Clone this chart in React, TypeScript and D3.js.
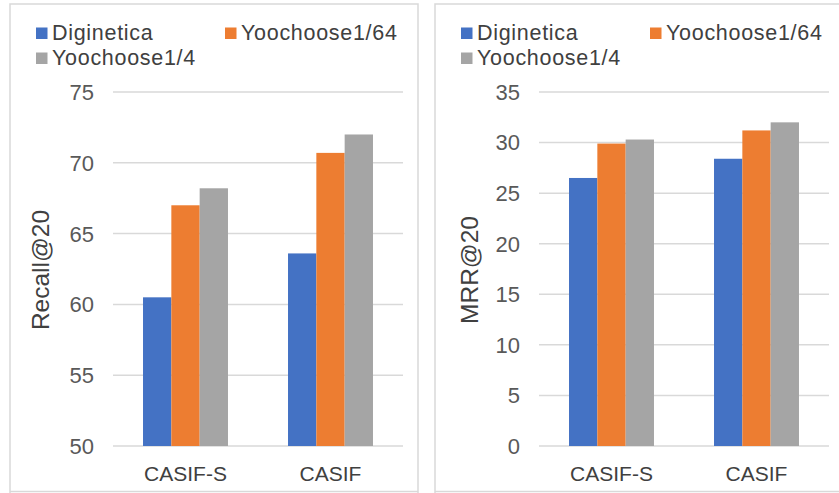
import * as React from "react";
import { scaleBand, scaleLinear, range } from "d3";

const categories = ["CASIF-S", "CASIF"];
const seriesNames = ["Diginetica", "Yoochoose1/64", "Yoochoose1/4"];
const seriesColors = ["#4472C4", "#ED7D31", "#A5A5A5"];

// values per series, in category order
const recallDiginetica = [60.5, 63.6];
const recallYoo64 = [67.0, 70.7];
const recallYoo4 = [68.2, 72.0];

const mrrDiginetica = [26.5, 28.4];
const mrrYoo64 = [29.9, 31.2];
const mrrYoo4 = [30.3, 32.0];

const recallTicks = [50, 55, 60, 65, 70, 75];
const mrrTicks = [0, 5, 10, 15, 20, 25, 30, 35];

const W = 839, H = 493;
const font = "'Liberation Sans', Arial, sans-serif";

interface PanelProps {
    left: number,
    right: number,
    plotLeft: number,
    plotRight: number,
    title: string,
    titleX: number,
    ticks: number[],
    values: number[][],
    drawRight: boolean
}

const Panel: React.FC<PanelProps> = ({left, right, plotLeft, plotRight, title, titleX, ticks, values, drawRight}) => {
    const top = 92, bottom = 446;
    const y = scaleLinear().domain([ticks[0], ticks[ticks.length - 1]]).range([bottom, top]);
    const x0 = scaleBand<string>().domain(categories).range([plotLeft, plotRight])
        .paddingInner(0.414).paddingOuter(0.207);
    const x1 = scaleBand<number>().domain(range(seriesNames.length)).range([0, x0.bandwidth()]);

    // legend rows are a touch further apart than the reference so the labels don't collide
    const legendPos = [
        {x: left + 26, y: 39.5},
        {x: left + 215, y: 39.5},
        {x: left + 26, y: 64.5},
    ];

    return (
        <g>
            <path
                d={`M${left},${H}V4H${right}` + (drawRight ? `V${H}` : "")}
                fill="none" stroke="#d9d9d9" strokeWidth={1.5}/>
            <line x1={left} x2={right} y1={491.5} y2={491.5} stroke="#d9d9d9" strokeWidth={1.5}/>

            {ticks.map(t => (
                <g key={t}>
                    <line x1={plotLeft} x2={plotRight} y1={y(t)} y2={y(t)} stroke="#d9d9d9" strokeWidth={1.5}/>
                    <text x={plotLeft - 19} y={y(t)} dy="0.36em" textAnchor="end"
                          fontSize={22} fill="#595959">{t}</text>
                </g>
            ))}

            {categories.map((c, ci) => (
                <g key={c} transform={`translate(${x0(c)},0)`}>
                    {values.map((s, si) => (
                        <rect key={si} x={x1(si)} width={x1.bandwidth()}
                              y={y(s[ci])} height={bottom - y(s[ci])} fill={seriesColors[si]}/>
                    ))}
                </g>
            ))}

            {categories.map(c => (
                <text key={c} x={(x0(c) as number) + x0.bandwidth() / 2} y={481} textAnchor="middle"
                      fontSize={21} fill="#404040">{c}</text>
            ))}

            <text transform={`translate(${titleX},270) rotate(-90)`} textAnchor="middle"
                  fontSize={24.5} fill="#404040">{title}</text>

            {seriesNames.map((n, i) => (
                <g key={n}>
                    <rect x={legendPos[i].x} y={legendPos[i].y - 12} width={11.5} height={11.5} fill={seriesColors[i]}/>
                    <text x={legendPos[i].x + 16} y={legendPos[i].y} fontSize={21.5} letterSpacing={0.7}
                          fill="#404040">{n}</text>
                </g>
            ))}
        </g>
    );
};

const App: React.FC = () => {
    return (
        <svg width={W} height={H} style={{position: "absolute", left: 0, top: 0, background: "#fff"}}
             fontFamily={font}>
            <rect width={W} height={H} fill="#fff"/>
            <Panel left={10} right={418} plotLeft={113} plotRight={403} title="Recall@20" titleX={49}
                   ticks={recallTicks} values={[recallDiginetica, recallYoo64, recallYoo4]} drawRight={true}/>
            <Panel left={435} right={845} plotLeft={539} plotRight={829} title="MRR@20" titleX={478}
                   ticks={mrrTicks} values={[mrrDiginetica, mrrYoo64, mrrYoo4]} drawRight={false}/>
        </svg>
    );
};

export default App;
